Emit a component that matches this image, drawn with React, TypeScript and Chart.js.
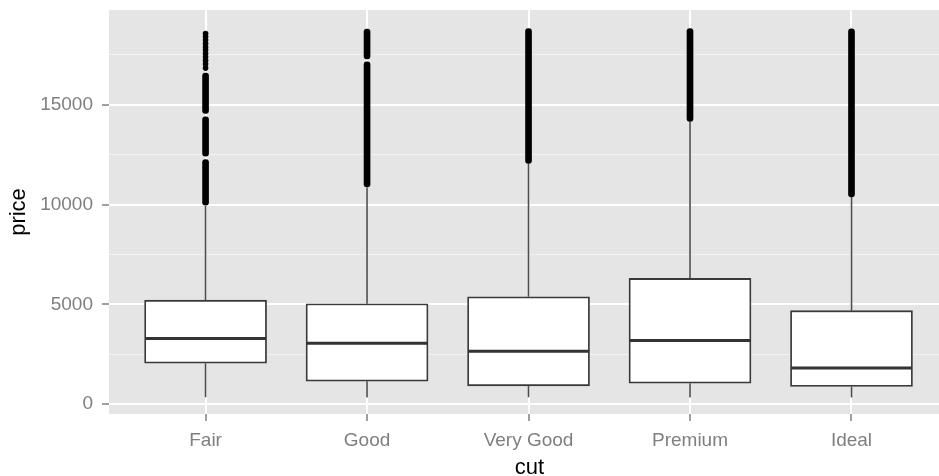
import React, { useEffect, useRef } from 'react';
import { Chart, registerables } from 'chart.js';

Chart.register(...registerables);

// ---- data (diamonds price by cut) ----
const categories = ['Fair', 'Good', 'Very Good', 'Premium', 'Ideal'];
const whiskerLow = [337, 327, 336, 326, 326];
const q1 = [2050, 1145, 912, 1046, 878];
const median = [3282, 3050, 2648, 3185, 1810];
const q3 = [5206, 5028, 5373, 6296, 4678];
const whiskerHigh = [9920, 10850, 12060, 14166, 10371];

// sparse outliers that show as separate dots
const outlierPointCat = [0, 0, 0, 0, 0, 0, 0, 0, 0, 0, 0];
const outlierPointPrice = [18574, 18418, 18242, 18067, 17892, 17741, 17565, 17390, 17215, 17039, 16839];

// dense runs of outliers that merge into solid strokes
const outlierRunCat = [0, 0, 0, 1, 1, 2, 3, 4];
const outlierRunLow = [14560, 12420, 9973, 17300, 10880, 12064, 14171, 10380];
const outlierRunHigh = [16590, 14400, 12250, 18788, 17150, 18818, 18823, 18806];

const yTicks = [0, 2500, 5000, 7500, 10000, 12500, 15000, 17500];
const yMajorStep = 5000;

const FONT = '"Liberation Sans", Arial, Helvetica, sans-serif';
const BOX_HALF = 0.375;

const panelBg = {
  id: 'panelBg',
  beforeDraw(chart: any) {
    const { ctx, chartArea } = chart;
    if (!chartArea) return;
    ctx.save();
    ctx.fillStyle = '#e5e5e5';
    ctx.fillRect(chartArea.left, chartArea.top, chartArea.right - chartArea.left, chartArea.bottom - chartArea.top);
    ctx.restore();
  },
};

export default function App() {
  const ref = useRef<HTMLCanvasElement | null>(null);

  useEffect(() => {
    if (!ref.current) return;

    const whiskerData: any[] = [];
    categories.forEach((_, i) => {
      whiskerData.push({ x: i, y: whiskerLow[i] }, { x: i, y: q1[i] }, { x: i, y: null });
      whiskerData.push({ x: i, y: q3[i] }, { x: i, y: whiskerHigh[i] }, { x: i, y: null });
    });
    const medianData: any[] = [];
    categories.forEach((_, i) => {
      medianData.push({ x: i - BOX_HALF, y: median[i] }, { x: i + BOX_HALF, y: median[i] }, { x: i, y: null });
    });
    const boxData = categories.map((_, i) => ({ x: i, y: [q1[i], q3[i]] }));
    const runData = outlierRunCat.map((c, k) => ({ x: c, y: [outlierRunLow[k], outlierRunHigh[k]] }));
    const pointData = outlierPointCat.map((c, k) => ({ x: c, y: outlierPointPrice[k] }));

    const chart = new Chart(ref.current, {
      type: 'bar',
      data: {
        datasets: [
          {
            type: 'line',
            label: 'whiskers',
            data: whiskerData,
            borderColor: '#4d4d4d',
            borderWidth: 1.6,
            pointRadius: 0,
            spanGaps: false,
            order: 4,
          } as any,
          {
            type: 'bar',
            label: 'boxes',
            data: boxData,
            backgroundColor: '#ffffff',
            borderColor: '#3a3a3a',
            borderWidth: 1.8,
            borderSkipped: false,
            barThickness: 122,
            grouped: false,
            order: 3,
          } as any,
          {
            type: 'line',
            label: 'median',
            data: medianData,
            borderColor: '#333333',
            borderWidth: 3,
            pointRadius: 0,
            spanGaps: false,
            order: 2,
          } as any,
          {
            type: 'bar',
            label: 'outlier runs',
            data: runData,
            backgroundColor: '#000000',
            borderWidth: 0,
            borderRadius: 3,
            borderSkipped: false,
            barThickness: 6,
            grouped: false,
            order: 1,
          } as any,
          {
            type: 'scatter',
            label: 'outliers',
            data: pointData,
            backgroundColor: '#000000',
            borderWidth: 0,
            pointRadius: 2.8,
            showLine: false,
            order: 0,
          } as any,
        ],
      },
      options: {
        animation: false,
        responsive: true,
        maintainAspectRatio: false,
        layout: { padding: { top: 10, right: 0, bottom: 0, left: 0 } },
        plugins: { legend: { display: false }, tooltip: { enabled: false } },
        scales: {
          x: {
            type: 'linear',
            offset: false,
            min: -0.598,
            max: 4.61,
            afterBuildTicks: (s: any) => {
              s.ticks = categories.map((_, i) => ({ value: i }));
            },
            afterFit: (s: any) => {
              s.height = 62;
              s.paddingLeft = 0;
              s.paddingRight = 0;
            },
            ticks: {
              callback: (v: any) => categories[Number(v)] ?? '',
              color: '#7f7f7f',
              font: { family: FONT, size: 19 },
              padding: 8,
              autoSkip: false,
              maxRotation: 0,
            },
            grid: {
              offset: false,
              color: '#ffffff',
              lineWidth: 2,
              drawTicks: true,
              tickColor: '#7f7f7f',
              tickLength: 7,
              tickWidth: 1.5,
            },
            border: { display: false },
            title: {
              display: true,
              text: 'cut',
              color: '#000000',
              font: { family: FONT, size: 22, lineHeight: 1 },
              padding: { top: 0, bottom: -3 },
            },
          } as any,
          y: {
            type: 'linear',
            min: -500,
            max: 19750,
            afterBuildTicks: (s: any) => {
              s.ticks = yTicks.map((v) => ({ value: v }));
            },
            afterFit: (s: any) => {
              s.width = 109;
              s.paddingTop = 0;
              s.paddingBottom = 0;
            },
            ticks: {
              callback: (v: any) => (Number(v) % yMajorStep === 0 ? String(v) : ''),
              color: '#7f7f7f',
              font: { family: FONT, size: 19 },
              padding: 9,
              autoSkip: false,
            },
            grid: {
              color: (c: any) => (c.tick && c.tick.value % yMajorStep === 0 ? '#ffffff' : '#f2f2f2'),
              lineWidth: (c: any) => (c.tick && c.tick.value % yMajorStep === 0 ? 2 : 1),
              drawTicks: true,
              tickColor: (c: any) => (c.tick && c.tick.value % yMajorStep === 0 ? '#7f7f7f' : 'rgba(0,0,0,0)'),
              tickLength: 7,
              tickWidth: 1.5,
            },
            border: { display: false },
            title: {
              display: true,
              text: 'price',
              color: '#000000',
              font: { family: FONT, size: 22, lineHeight: 1 },
              padding: { top: 8, bottom: 0 },
            },
          } as any,
        },
      },
      plugins: [panelBg],
    });

    return () => chart.destroy();
  }, []);

  return (
    <div style={{ position: 'fixed', left: 0, top: 0, width: 954, height: 476, background: '#ffffff' }}>
      <canvas ref={ref} />
    </div>
  );
}
